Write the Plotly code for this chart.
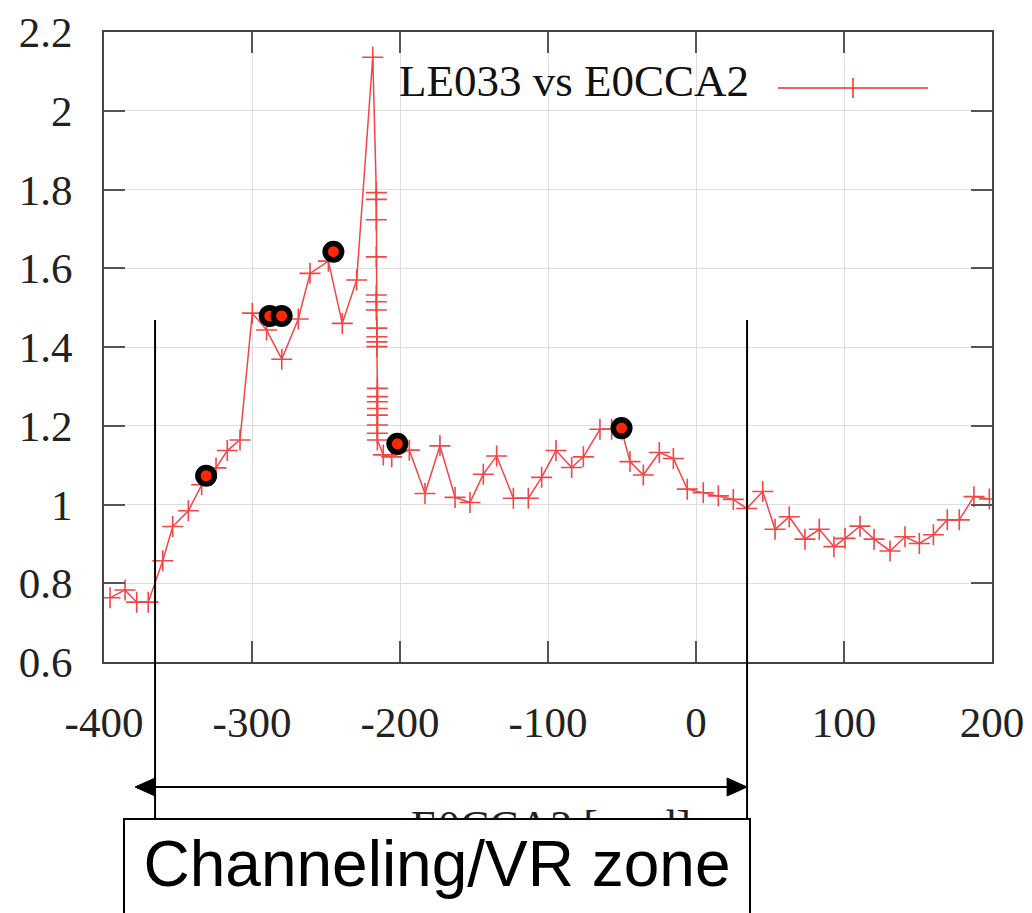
import plotly.graph_objects as go

# ---- data ----
x_vals = [-395.9, -385.8, -377.9, -370.1, -360.3, -353.6, -343.0, -334.0, -324.3, -316.7,
          -308.1, -299.8, -290.1, -279.9, -268.7, -260.8, -248.4, -239.0, -229.3, -218.4,
          -216.0, -216.0, -216.0, -216.0, -216.0, -216.0, -216.0, -215.6, -215.6, -215.6,
          -215.6, -215.3, -215.3, -215.3, -215.3, -215.3, -215.3, -215.3, -215.3,
          -211.3, -205.6, -193.7, -183.1, -173.0, -162.8, -152.7, -143.7, -134.7, -123.4,
          -113.3, -104.3, -94.6, -84.0, -76.1, -64.9, -57.0, -50.3, -44.6, -35.6,
          -24.8, -15.3, -5.9, 4.9, 15.1, 25.2, 34.3, 45.1, 53.4, 63.0,
          73.6, 83.3, 93.2, 100.7, 110.8, 120.3, 131.1, 141.2, 150.9, 160.4,
          169.8, 177.9, 187.8, 198.2]
y_vals = [0.763, 0.783, 0.752, 0.752, 0.857, 0.944, 0.984, 1.050, 1.093, 1.137,
          1.164, 1.486, 1.443, 1.369, 1.471, 1.587, 1.618, 1.460, 1.570, 2.136,
          1.792, 1.775, 1.723, 1.629, 1.532, 1.515, 1.494, 1.448, 1.426, 1.413,
          1.401, 1.295, 1.274, 1.261, 1.244, 1.227, 1.202, 1.181, 1.164,
          1.126, 1.121, 1.138, 1.028, 1.149, 1.018, 1.005, 1.077, 1.123, 1.016,
          1.016, 1.069, 1.137, 1.094, 1.121, 1.191, 1.191, 1.190, 1.109, 1.075,
          1.132, 1.117, 1.039, 1.030, 1.022, 1.013, 0.990, 1.033, 0.937, 0.969,
          0.912, 0.937, 0.893, 0.914, 0.945, 0.912, 0.882, 0.918, 0.901, 0.923,
          0.961, 0.961, 1.020, 1.014]

# highlighted points (black-ringed red dots)
dot_x = [-331.0, -288.0, -280.0, -245.0, -201.8, -50.3]
dot_y = [1.073, 1.479, 1.479, 1.642, 1.154, 1.194]

x_ticks = [-400, -300, -200, -100, 0, 100, 200]
x_ticktext = ["-400", "-300", "-200", "-100", "0", "100", "200"]
y_ticks = [0.6, 0.8, 1.0, 1.2, 1.4, 1.6, 1.8, 2.0, 2.2]
y_ticktext = ["0.6", "0.8", "1", "1.2", "1.4", "1.6", "1.8", "2", "2.2"]

series_name = "LE033 vs E0CCA2"
x_title = "E0CCA2 [urad]"
zone_label = "Channeling/VR zone"
zone_start = -365.5
zone_end = 34.5
arrow_left = -379.0

RED = "rgb(240,45,45)"
SERIF = "Liberation Serif, Times New Roman, serif"
SANS = "Liberation Sans, Arial, sans-serif"

OFF = 8  # page body margin
W, H = 1032 - OFF, 913 - OFF
ML, MR, MT, MB = 104 - OFF, 40, 32 - OFF, 251
PW, PH = W - ML - MR, H - MT - MB


def py(p):  # page pixel y -> paper y
    return (H - MB - (p - OFF)) / PH


def px(p):  # page pixel x -> paper x
    return (p - OFF - ML) / PW


fig = go.Figure()
fig.add_trace(go.Scatter(
    x=x_vals, y=y_vals, mode="lines+markers", name=series_name,
    line=dict(color=RED, width=1.5),
    marker=dict(symbol="cross-thin", size=15, line=dict(color=RED, width=1.6)),
    showlegend=False, opacity=0.88,
))
fig.add_trace(go.Scatter(
    x=dot_x, y=dot_y, mode="markers",
    marker=dict(symbol="circle", size=16.5, color="rgb(255,40,0)",
                line=dict(color="black", width=5.5)),
    showlegend=False,
))

shapes = []
# opaque key background (hides grid under the key)
shapes.append(dict(type="rect", xref="paper", yref="paper", x0=px(272), x1=1, y0=py(123), y1=1,
                   fillcolor="white", line=dict(width=0), layer="between"))
# key sample
shapes.append(dict(type="line", xref="paper", yref="paper", x0=px(778), x1=px(928), y0=py(88), y1=py(88),
                   line=dict(color=RED, width=1.5), layer="above"))
shapes.append(dict(type="line", xref="paper", yref="paper", x0=px(853), x1=px(853), y0=py(78), y1=py(98),
                   line=dict(color=RED, width=1.5), layer="above"))
# zone boundary lines
for zx in (zone_start, zone_end):
    shapes.append(dict(type="line", xref="x", yref="paper", x0=zx, x1=zx, y0=py(320), y1=py(818),
                       line=dict(color="black", width=2), layer="above"))
# arrow
ay = py(787)
head_dx = 13.5
head_dy = 9 / PH
shapes.append(dict(type="line", xref="x", yref="paper", x0=arrow_left + head_dx, x1=zone_end - head_dx,
                   y0=ay, y1=ay, line=dict(color="black", width=2), layer="above"))
shapes.append(dict(type="path", xref="x", yref="paper",
                   path=f"M {arrow_left},{ay} L {arrow_left + head_dx},{ay + head_dy} L {arrow_left + head_dx},{ay - head_dy} Z",
                   fillcolor="black", line=dict(color="black", width=1), layer="above"))
shapes.append(dict(type="path", xref="x", yref="paper",
                   path=f"M {zone_end},{ay} L {zone_end - head_dx},{ay + head_dy} L {zone_end - head_dx},{ay - head_dy} Z",
                   fillcolor="black", line=dict(color="black", width=1), layer="above"))

annotations = [
    dict(text=series_name, xref="paper", yref="paper", x=px(751), y=py(81),
         xanchor="right", yanchor="middle", showarrow=False,
         font=dict(family=SERIF, size=45, color="#111")),
    dict(text=x_title, xref="paper", yref="paper", x=px(551), y=py(826),
         xanchor="center", yanchor="middle", showarrow=False,
         font=dict(family=SERIF, size=44, color="#222")),
    dict(text=zone_label, xref="paper", yref="paper", x=px(437), y=py(818),
         xanchor="center", yanchor="top", showarrow=False,
         width=608, height=160, valign="top", align="center",
         bgcolor="white", bordercolor="black", borderwidth=2, borderpad=8,
         font=dict(family=SANS, size=64, color="black")),
]

axis_common = dict(
    showgrid=True, gridcolor="#dedede", gridwidth=1,
    ticks="inside", ticklen=21, tickwidth=1.5, tickcolor="#555",
    showline=True, linecolor="#444", linewidth=2, mirror="ticks",
    zeroline=False, automargin=False,
    tickfont=dict(family=SERIF, size=43, color="#222"),
)

fig.update_layout(
    width=W, height=H,
    margin=dict(l=ML, r=MR, t=MT, b=MB, autoexpand=False),
    paper_bgcolor="white", plot_bgcolor="white",
    xaxis=dict(range=[-400, 200], tickvals=x_ticks, ticktext=x_ticktext,
               ticklabelstandoff=21, **axis_common),
    yaxis=dict(range=[0.6, 2.2], tickvals=y_ticks, ticktext=y_ticktext,
               ticklabelstandoff=21, **axis_common),
    shapes=shapes, annotations=annotations,
    showlegend=False,
)

fig.write_html("out.html")
